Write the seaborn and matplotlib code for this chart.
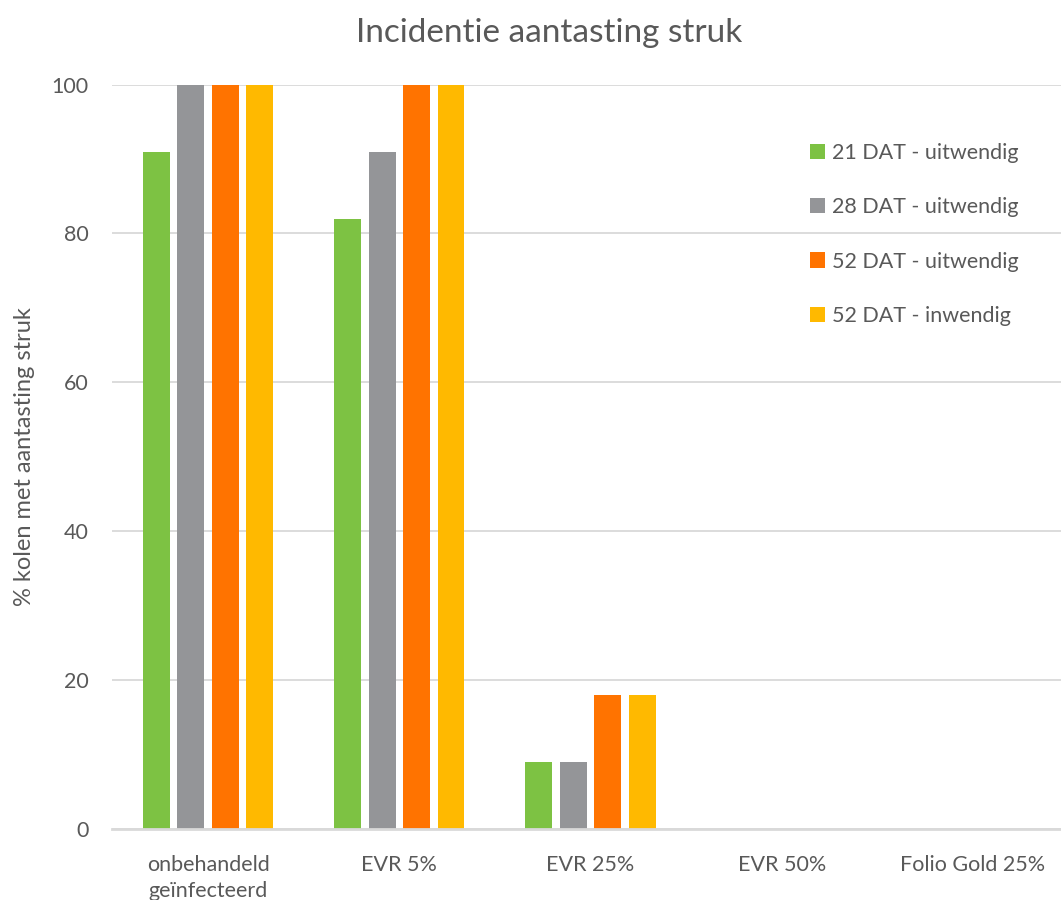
import matplotlib
matplotlib.use("Agg")
import matplotlib.pyplot as plt
from matplotlib.patches import Patch
import seaborn as sns
import pandas as pd

categories = ["onbehandeld\ngeïnfecteerd", "EVR 5%", "EVR 25%", "EVR 50%", "Folio Gold 25%"]
series_names = ["21 DAT - uitwendig", "28 DAT - uitwendig", "52 DAT - uitwendig", "52 DAT - inwendig"]
dat21_uit = [91, 82, 9, 0, 0]
dat28_uit = [100, 91, 9, 0, 0]
dat52_uit = [100, 100, 18, 0, 0]
dat52_in = [100, 100, 18, 0, 0]
colors = ["#7DC243", "#949598", "#FF7300", "#FFB900"]
y_ticks = [0, 20, 40, 60, 80, 100]

rows = []
for name, vals in zip(series_names, [dat21_uit, dat28_uit, dat52_uit, dat52_in]):
    for cat, v in zip(categories, vals):
        rows.append({"categorie": cat, "serie": name, "waarde": v})
df = pd.DataFrame(rows)

sns.set_theme(style="white")
plt.rcParams["font.family"] = ["Lato", "DejaVu Sans"]
text_col = "#595959"
grid_col = "#D9D9D9"

fig = plt.figure(figsize=(10.61, 9.0), dpi=100)
ax = fig.add_axes([0.106, 0.079, 0.894, 0.827])

sns.barplot(data=df, x="categorie", y="waarde", hue="serie", order=categories,
            hue_order=series_names, palette=colors, width=0.72, gap=0.22,
            saturation=1, ax=ax, legend=False, zorder=3, linewidth=0)

ax.set_xlim(-0.5, 4.46)
ax.set_ylim(0, 100)
ax.set_yticks(y_ticks)
ax.yaxis.grid(True, color=grid_col, linewidth=1.3, zorder=0)
ax.set_axisbelow(True)
for s in ["top", "right", "left"]:
    ax.spines[s].set_visible(False)
ax.spines["bottom"].set_color(grid_col)
ax.spines["bottom"].set_linewidth(2)
ax.spines["bottom"].set_zorder(4)
ax.tick_params(axis="both", length=0, labelsize=15.5, colors=text_col)
ax.tick_params(axis="x", pad=19)
ax.tick_params(axis="y", pad=17)
for lbl in ax.get_xticklabels():
    lbl.set_linespacing(1.35)
ax.set_xlabel("")
ax.set_ylabel("% kolen met aantasting struk", fontsize=17, color=text_col, labelpad=12)

fig.suptitle("Incidentie aantasting struk", fontsize=24, color=text_col, x=0.518, y=0.98)

handles = [Patch(facecolor=c, edgecolor="none") for c in colors]
ax.legend(handles, series_names, loc="upper left", bbox_to_anchor=(0.735, 0.922),
          frameon=False, fontsize=15.5, labelcolor=text_col, handlelength=0.7,
          handleheight=0.7, handletextpad=0.35, labelspacing=1.6,
          borderpad=0, borderaxespad=0)

fig.savefig("out.png", dpi=100, facecolor="white")
